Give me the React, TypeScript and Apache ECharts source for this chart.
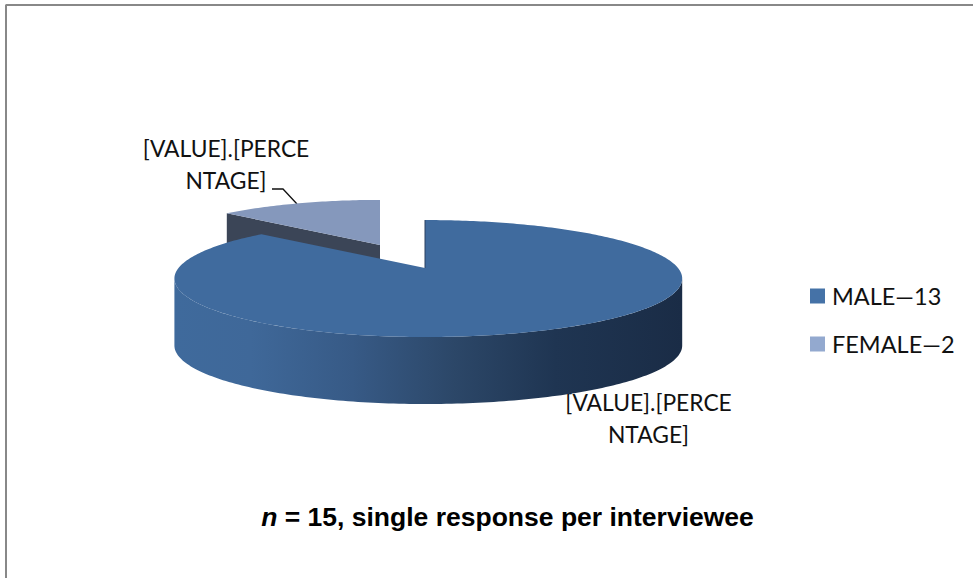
import React, { useEffect, useRef } from "react";
import * as echarts from "echarts";

const sliceNames = ["MALE—13", "FEMALE—2"];
const sliceValues = [13, 2];
const sliceLabel = "[VALUE].[PERCE\nNTAGE]";
const titleItalic = "n";
const titleRest = " = 15, single response per interviewee";

const total = sliceValues.reduce((a, b) => a + b, 0);
const K = 0.18;
const HT = 56.6;
const DEPTH = 67;
const EXTREME = (Math.acos(-K) * 180) / Math.PI;

function project(aDeg: number, r: number, ax: number, ay: number) {
  const a = (aDeg * Math.PI) / 180;
  const x = Math.sin(a) * r;
  const y = Math.cos(a) * r;
  const s = 1 / (1 + K * y);
  const W = x < 0 ? 246.5 : 253;
  return [ax + W * x * s, ay - HT * y * s];
}

function arcPts(a0: number, a1: number, r: number, ax: number, ay: number) {
  const out: number[][] = [];
  const n = Math.max(2, Math.ceil(Math.abs(a1 - a0)));
  for (let i = 0; i <= n; i++) out.push(project(a0 + ((a1 - a0) * i) / n, r, ax, ay));
  return out;
}

function sliceRender(index: number, apexX: number, apexY: number, r: number, faceColor: string, innerColor: string) {
  return () => {
    const before = sliceValues.slice(0, index).reduce((a, b) => a + b, 0);
    const a0 = (before / total) * 360;
    const a1 = ((before + sliceValues[index]) / total) * 360;
    const children: any[] = [];
    // inner wall along the opening edge
    const startP = project(a0, r, apexX, apexY);
    children.push({
      type: "polygon",
      shape: { points: [[apexX, apexY], startP, [startP[0], startP[1] + DEPTH], [apexX, apexY + DEPTH]] },
      style: { fill: innerColor },
    });
    // outer wall, the part of the rim facing the viewer
    const frontFrom = Math.max(a0, EXTREME);
    const frontTo = Math.min(a1, 360 - EXTREME);
    if (frontTo > frontFrom) {
      const rim = arcPts(frontFrom, frontTo, r, apexX, apexY);
      const lower = rim.map((p) => [p[0], p[1] + DEPTH]).reverse();
      children.push({
        type: "polygon",
        shape: { points: rim.concat(lower) },
        style: {
          fill: new echarts.graphic.LinearGradient(
            175, 0, 682, 0,
            [
              { offset: 0, color: "#3F6A9C" },
              { offset: 0.15, color: "#3F6899" },
              { offset: 0.35, color: "#375A86" },
              { offset: 0.55, color: "#2C4768" },
              { offset: 0.75, color: "#1F3552" },
              { offset: 1, color: "#1A2C46" },
            ],
            true
          ),
        },
      });
    }
    // top face
    const face = [[apexX, apexY], ...arcPts(a0, a1, r, apexX, apexY)];
    children.push({ type: "polygon", shape: { points: face }, style: { fill: faceColor } });
    if (index === 0) {
      children.push({
        type: "line",
        shape: { x1: apexX, y1: apexY, x2: startP[0], y2: startP[1] },
        style: { stroke: "#2B4060", lineWidth: 1 },
      });
    }
    return { type: "group", children };
  };
}

export default function App() {
  const ref = useRef<HTMLDivElement>(null);
  useEffect(() => {
    document.body.style.margin = "0";
    const chart = echarts.init(ref.current!, undefined, { renderer: "svg" });
    const labelStyle = { font: "22.8px Lato", fill: "#111", textAlign: "center", lineHeight: 32 };
    chart.setOption({
      animation: false,
      backgroundColor: "#fff",
      title: {
        text: `{i|${titleItalic}}{b|${titleRest}}`,
        left: 502.5,
        top: 498,
        textAlign: "center",
        textStyle: {
          rich: {
            i: { fontFamily: "Liberation Sans", fontSize: 26.5, fontWeight: "bold", fontStyle: "italic", color: "#000" },
            b: { fontFamily: "Liberation Sans", fontSize: 26.5, fontWeight: "bold", color: "#000" },
          },
        },
      },
      legend: {
        orient: "vertical",
        left: 810,
        top: 284,
        icon: "rect",
        itemWidth: 15,
        itemHeight: 15,
        itemGap: 24,
        padding: 0,
        data: sliceNames,
        textStyle: { fontFamily: "Lato", fontSize: 23.5, color: "#111", padding: [0, 0, 0, 2] },
      },
      series: [
        {
          type: "custom",
          name: sliceNames[0],
          coordinateSystem: "none",
          z: 3,
          silent: true,
          itemStyle: { color: "#4572A7" },
          data: [sliceValues[0]],
          renderItem: sliceRender(0, 425, 268, 1, "#406B9E", "#2B4060"),
        },
        {
          type: "custom",
          name: sliceNames[1],
          coordinateSystem: "none",
          z: 2,
          silent: true,
          itemStyle: { color: "#93A9CF" },
          data: [sliceValues[1]],
          renderItem: sliceRender(1, 380, 245, 0.93, "#8598BC", "#3B4557"),
        },
      ],
      graphic: [
        { type: "line", silent: true, shape: { x1: 5.5, y1: 5, x2: 973, y2: 5 }, style: { stroke: "#888", lineWidth: 2 } },
        { type: "line", silent: true, shape: { x1: 6, y1: 5, x2: 6, y2: 578 }, style: { stroke: "#888", lineWidth: 2 } },
        { type: "text", silent: true, style: { ...labelStyle, text: sliceLabel, x: 226, y: 132 } },
        { type: "text", silent: true, style: { ...labelStyle, text: sliceLabel, x: 648.5, y: 386 } },
        { type: "polyline", silent: true, shape: { points: [[272, 189], [283, 189], [297, 204]] }, style: { stroke: "#111", lineWidth: 1.3, fill: "none" } },
      ],
    });
    return () => chart.dispose();
  }, []);
  return <div ref={ref} style={{ width: 973, height: 578 }} />;
}
